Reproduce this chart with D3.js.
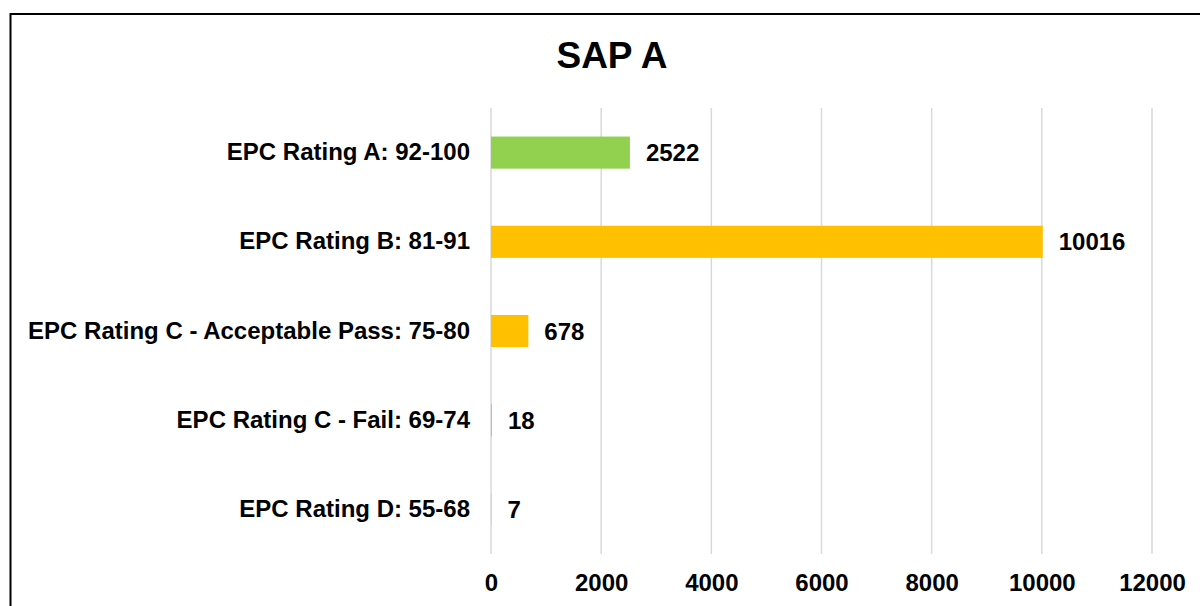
<!DOCTYPE html>
<html>
<head>
<meta charset="utf-8">
<script src="https://cdn.jsdelivr.net/npm/d3@7"></script>
<style>
  body { margin: 0; background: #fff; }
  text { font-family: "Liberation Sans", Arial, sans-serif; font-weight: bold; fill: #000; }
</style>
</head>
<body>
<div id="chart"></div>
<script>
// chart data
const title = "SAP A";
const categories = [
  "EPC Rating A: 92-100",
  "EPC Rating B: 81-91",
  "EPC Rating C - Acceptable Pass: 75-80",
  "EPC Rating C - Fail: 69-74",
  "EPC Rating D: 55-68"
];
const counts = [2522, 10016, 678, 18, 7];
const barColors = ["#92D050", "#FFC000", "#FFC000", "#FFC000", "#FFC000"];
const xTicks = [0, 2000, 4000, 6000, 8000, 10000, 12000];

const width = 1200, height = 606;
const margin = { top: 108, right: 48, bottom: 52, left: 491 };

const svg = d3.select('#chart').append('svg')
  .attr('width', width)
  .attr('height', height);

// outer frame (runs off the right and bottom of the image)
svg.append('rect')
  .attr('x', 10.5).attr('y', 14)
  .attr('width', 1300).attr('height', 700)
  .attr('fill', 'none')
  .attr('stroke', '#000')
  .attr('stroke-width', 2);

const x = d3.scaleLinear()
  .domain([0, 12000])
  .range([margin.left, width - margin.right]);

const y = d3.scaleBand()
  .domain(categories)
  .range([margin.top, height - margin.bottom])
  .paddingInner(0.64)
  .paddingOuter(0.32);

// gridlines
svg.append('g')
  .selectAll('line')
  .data(xTicks)
  .join('line')
  .attr('x1', d => x(d)).attr('x2', d => x(d))
  .attr('y1', margin.top).attr('y2', height - margin.bottom)
  .attr('stroke', '#d9d9d9')
  .attr('stroke-width', 1.5);

// bars
svg.append('g')
  .selectAll('rect')
  .data(categories)
  .join('rect')
  .attr('x', x(0))
  .attr('y', d => y(d))
  .attr('width', (d, i) => x(counts[i]) - x(0))
  .attr('height', y.bandwidth())
  .attr('fill', (d, i) => barColors[i]);

// value labels
svg.append('g')
  .selectAll('text')
  .data(categories)
  .join('text')
  .attr('x', (d, i) => x(counts[i]) + 16)
  .attr('y', d => y(d) + y.bandwidth() / 2)
  .attr('dy', '0.36em')
  .style('font-size', '24px')
  .text((d, i) => counts[i]);

// category axis
const yAxis = svg.append('g')
  .attr('transform', `translate(${margin.left},0)`)
  .call(d3.axisLeft(y).tickSize(0).tickPadding(21));
yAxis.select('.domain').remove();
yAxis.selectAll('text')
  .style('font-size', '24px')
  .style('font-family', '"Liberation Sans", Arial, sans-serif')
  .style('font-weight', 'bold')
  .attr('fill', '#000');

// value axis
const xAxis = svg.append('g')
  .attr('transform', `translate(0,${height - margin.bottom})`)
  .call(d3.axisBottom(x).tickValues(xTicks).tickFormat(d3.format('d')).tickSize(0).tickPadding(20));
xAxis.select('.domain').remove();
xAxis.selectAll('text')
  .style('font-size', '24px')
  .style('font-family', '"Liberation Sans", Arial, sans-serif')
  .style('font-weight', 'bold')
  .attr('fill', '#000');

// title
svg.append('text')
  .attr('x', 612)
  .attr('y', 68)
  .attr('text-anchor', 'middle')
  .style('font-size', '37px')
  .text(title);
</script>
</body>
</html>
